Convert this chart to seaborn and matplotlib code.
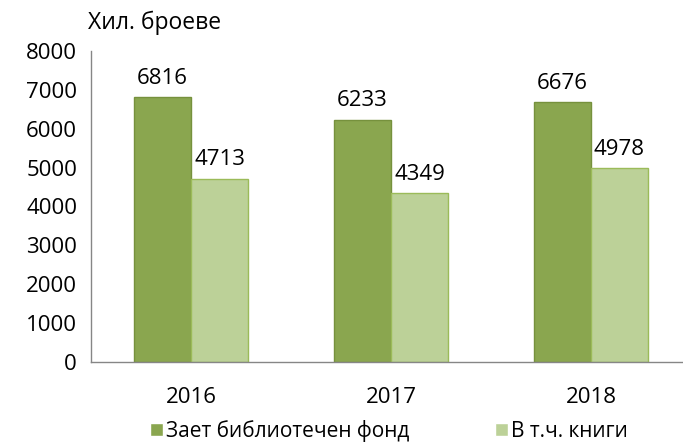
import pandas as pd
import matplotlib
matplotlib.use('Agg')
import matplotlib.pyplot as plt
import seaborn as sns

# данни
years = ['2016', '2017', '2018']
fond = [6816, 6233, 6676]
knigi = [4713, 4349, 4978]
series_names = ['Зает библиотечен фонд', 'В т.ч. книги']

df = pd.DataFrame({
    'year': years * 2,
    'value': fond + knigi,
    'series': [series_names[0]] * 3 + [series_names[1]] * 3,
})

sns.set_style('white')
plt.rcParams['font.family'] = ['Open Sans', 'DejaVu Sans']
plt.rcParams['text.color'] = 'black'
plt.rcParams['xtick.labelcolor'] = 'black'
plt.rcParams['ytick.labelcolor'] = 'black'

fs = 16
fig = plt.figure(figsize=(6.83, 4.43), dpi=100)
ax = fig.add_axes([91 / 683, 1 - 362 / 443, 600 / 683, 311 / 443])

colors = ['#8aa64f', '#bcd198']
sns.barplot(data=df, x='year', y='value', hue='series', palette=colors,
            width=0.57, ax=ax, saturation=1)

edges = ['#76913d', '#9bbb59']
for cont, ec in zip(ax.containers, edges):
    for bar in cont:
        bar.set_edgecolor(ec)
        bar.set_linewidth(1)
    ax.bar_label(cont, labels=[str(int(v)) for v in cont.datavalues],
                 padding=6, fontsize=fs, color='black')

ax.set_ylim(0, 8000)
ax.set_xlim(-0.5, 2.5)
ax.set_yticks(range(0, 8001, 1000))
ax.set_xticks([-0.5, 0.5, 1.5, 2.5], minor=False)
ax.set_xticklabels([])
ax.set_xticks([0, 1, 2], minor=True)
ax.set_xticklabels(years, minor=True)
ax.tick_params(axis='x', which='minor', length=0, pad=18, labelsize=fs)
ax.tick_params(axis='x', which='major', length=6, color='#868686', width=1)
ax.tick_params(axis='y', length=6, color='#868686', width=1, labelsize=fs, pad=4)
ax.set_xlabel('')
ax.set_ylabel('')

for s in ['top', 'right']:
    ax.spines[s].set_visible(False)
for s in ['left', 'bottom']:
    ax.spines[s].set_color('#868686')
    ax.spines[s].set_linewidth(1)

fig.text(88 / 683, 1 - 23 / 443, 'Хил. броеве', fontsize=16.5, va='center', ha='left')

handles, labels = ax.get_legend_handles_labels()
ax.get_legend().remove()
fig.legend(handles, labels, loc='center left', bbox_to_anchor=(150 / 683, 1 - 431 / 443),
           ncol=2, frameon=False, fontsize=15, handlelength=0.63, handleheight=0.63,
           handletextpad=0.15, columnspacing=4.1, borderpad=0, borderaxespad=0)

fig.savefig('out.png', dpi=100)
